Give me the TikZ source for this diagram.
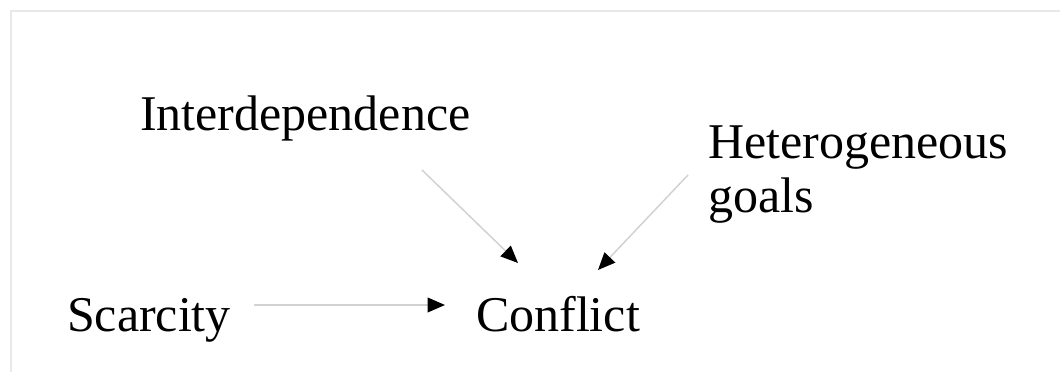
\documentclass[tikz,border=0pt]{standalone}
\usepackage{fontspec}
\setmainfont{Liberation Serif}
\usetikzlibrary{arrows.meta}
\begin{document}
\begin{tikzpicture}[x=0.75pt, y=0.75pt]
\tikzset{ >={Triangle[length=13pt, width=11pt, color=black]}, inner sep=0pt, outer sep=0pt,
  lbl/.style={anchor=base west, font=\fontsize{37.5}{40.5}\selectfont},
  arr/.style={->, line width=1.1pt, draw=black!18},
  frame/.style={draw=black!9, line width=1.5pt} }

\useasboundingbox (0,0) rectangle (1060,372);
%\draw [lightgray, dashed](0,0) grid[step=50] (1060,372);

\draw [frame] (1060,361) -- (11,361) -- (11,0);

\node [lbl] (inter) at (140,242) {Interdependence};
\node [lbl, align=left] (hetero) at (708,160) {Heterogeneous\\goals};
\node [lbl] (scar) at (67,41) {Scarcity};
\node [lbl] (conf) at (476,41) {Conflict};

\draw [arr] ([shift={(23,26)}]scar.base east)  -- ([shift={(-31,26)}]conf.base west);
\draw [arr] ([shift={(282,-40)}]inter.base west) -- ([shift={(42,68)}]conf.base west);
\draw [arr] ([shift={(-20,37)}]hetero.base west) -- ([shift={(122,61)}]conf.base west);
\end{tikzpicture}
\end{document}
